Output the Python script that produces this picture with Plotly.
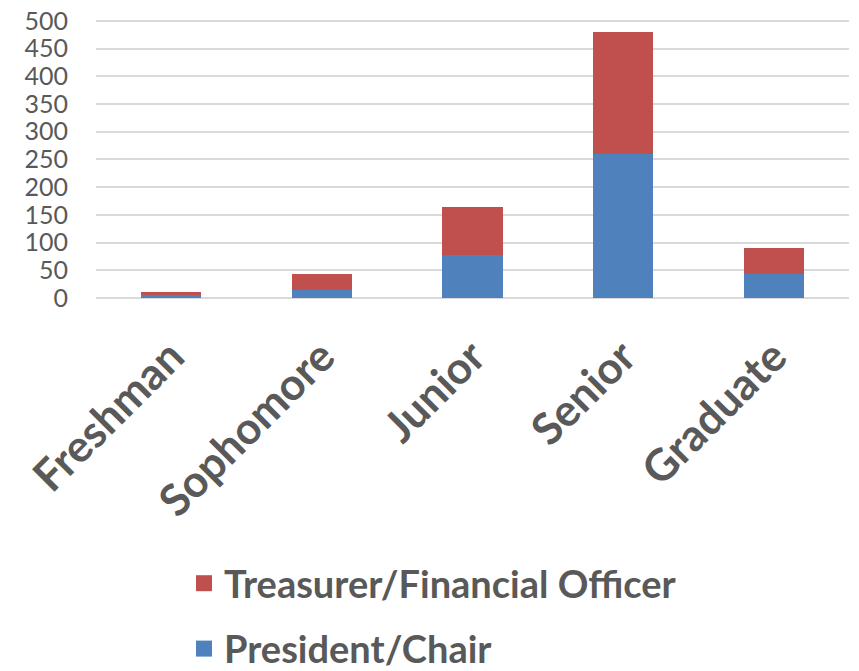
import plotly.graph_objects as go

categories = ["Freshman", "Sophomore", "Junior", "Senior", "Graduate"]
president_chair = [5, 14, 77, 259, 43]
treasurer_financial = [5, 29, 87, 221, 48]
y_ticks = [0, 50, 100, 150, 200, 250, 300, 350, 400, 450, 500]

BLUE = "#4f81bd"
RED = "#c0504d"
GREY = "#595959"
FONT = "Lato"

fig = go.Figure()
fig.add_trace(go.Bar(
    x=categories, y=president_chair, name="President/Chair",
    marker=dict(color=BLUE, line=dict(width=0)), showlegend=False,
))
fig.add_trace(go.Bar(
    x=categories, y=treasurer_financial, name="Treasurer/Financial Officer",
    marker=dict(color=RED, line=dict(width=0)), showlegend=False,
))
# legend entries with larger square swatches
fig.add_trace(go.Scatter(
    x=[None], y=[None], mode="markers", name="Treasurer/Financial Officer",
    marker=dict(symbol="square", size=20, color=RED), legendgroup="t", legendrank=1,
))
fig.add_trace(go.Scatter(
    x=[None], y=[None], mode="markers", name="President/Chair",
    marker=dict(symbol="square", size=20, color=BLUE), legendgroup="p", legendrank=2,
))

fig.update_layout(
    template="none",
    width=859, height=671,
    barmode="stack", bargap=0.6,
    plot_bgcolor="white", paper_bgcolor="white",
    margin=dict(l=88, r=18, t=10, b=381, autoexpand=False),
    font=dict(family=FONT, color=GREY),
    xaxis=dict(
        tickangle=-45, tickfont=dict(size=44, family=FONT, color=GREY, weight="bold"),
        showline=False, ticks="", showgrid=False, automargin=False,
        ticklabelstandoff=23,
    ),
    yaxis=dict(
        range=[0, 505], tickvals=y_ticks, ticktext=[str(v) for v in y_ticks],
        tickfont=dict(size=25, family=FONT, color=GREY),
        showgrid=True, gridcolor="#d9d9d9", gridwidth=2,
        zeroline=True, zerolinecolor="#d9d9d9", zerolinewidth=2,
        ticks="", ticklabelstandoff=27, automargin=False,
        ticklabeloverflow="allow",
    ),
    legend=dict(
        orientation="v", x=176 / 859, xanchor="left", xref="container",
        y=1 - 544 / 671, yanchor="top", yref="container",
        traceorder="grouped", tracegroupgap=13,
        font=dict(size=38, family=FONT, color=GREY, weight="bold"),
        itemwidth=30,
    ),
    showlegend=True,
)

fig.write_html("out.html")
